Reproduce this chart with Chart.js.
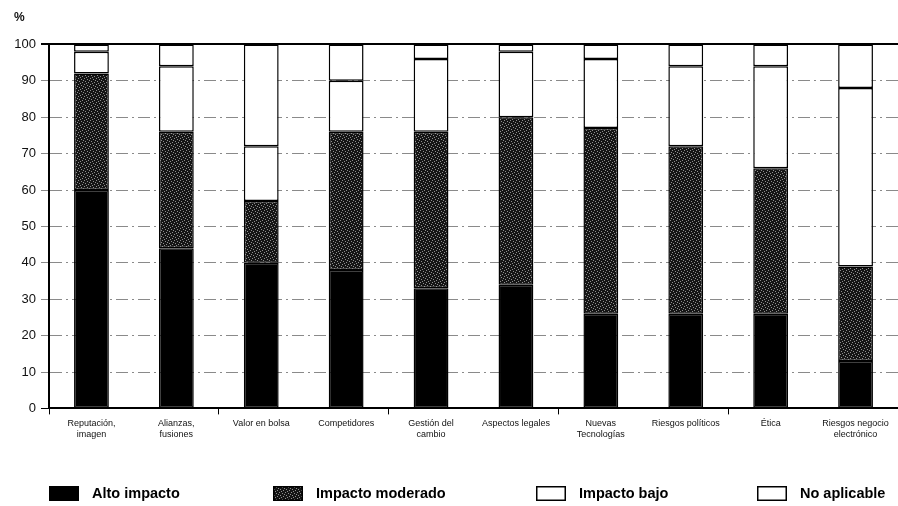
<!DOCTYPE html>
<html>
<head>
<meta charset="utf-8">
<script src="https://cdn.jsdelivr.net/npm/chart.js@4/dist/chart.umd.min.js"></script>
<style>
  html, body { margin: 0; padding: 0; background: #fff; }
  #wrap { position: relative; width: 898px; height: 506px; }
  #leyenda { position: absolute; left: 0; top: 485px; width: 898px; height: 18px;
             font: bold 14.5px "Liberation Sans", Arial, sans-serif; color: #000; }
  .item { position: absolute; top: 0; display: flex; align-items: center; white-space: nowrap; }
  .item canvas { width: 30px; height: 15px; margin-right: 13px; display: block; }
</style>
</head>
<body>
<div id="wrap">
  <canvas id="mainChart"></canvas>
  <div id="leyenda"></div>
</div>
<script>
    // categorias y valores (% de respuestas)
    const categorias = [
        ['Reputación,', 'imagen'],
        ['Alianzas,', 'fusiones'],
        'Valor en bolsa',
        'Competidores',
        ['Gestión del', 'cambio'],
        'Aspectos legales',
        ['Nuevas', 'Tecnologías'],
        'Riesgos políticos',
        'Ética',
        ['Riesgos negocio', 'electrónico']
    ];
    const altoImpacto     = [60, 44, 40, 38, 33, 34, 26, 26, 26, 13];
    const impactoModerado = [32, 32, 17, 38, 43, 46, 51, 46, 40, 26];
    const impactoBajo     = [6, 18, 15, 14, 20, 18, 19, 22, 28, 49];
    const noAplicable     = [2, 6, 28, 10, 4, 2, 4, 6, 6, 12];
    const yTicks = [0, 10, 20, 30, 40, 50, 60, 70, 80, 90, 100];

    const FONT = '"Liberation Sans", Arial, sans-serif';

    // trama punteada para "Impacto moderado"
    function makePattern(g) {
        const c = document.createElement('canvas');
        c.width = 6; c.height = 6;
        const p = c.getContext('2d');
        p.fillStyle = '#151515';
        p.fillRect(0, 0, 6, 6);
        p.fillStyle = '#8f8f8f';
        [[0, 0], [3, 1], [1, 3], [4, 4], [5, 2], [2, 5]].forEach(d => p.fillRect(d[0], d[1], 1, 1));
        return g.createPattern(c, 'repeat');
    }

    const ctx = document.getElementById('mainChart').getContext('2d');
    const trama = makePattern(ctx);
    const common = { borderColor: '#000', borderWidth: 1.5, borderSkipped: false, barPercentage: 0.41, categoryPercentage: 1 };

    const myChart = new Chart(ctx, {
        type: 'bar',
        data: {
            labels: categorias,
            datasets: [
                { label: 'Alto impacto', data: altoImpacto, backgroundColor: '#000', ...common },
                { label: 'Impacto moderado', data: impactoModerado, backgroundColor: trama, ...common },
                { label: 'Impacto bajo', data: impactoBajo, backgroundColor: '#fff', ...common },
                { label: 'No aplicable', data: noAplicable, backgroundColor: '#fff', ...common }
            ]
        },
        options: {
            responsive: true,
            maintainAspectRatio: false,
            animation: false,
            layout: { padding: { left: 14, right: 0, top: 6, bottom: 62 } },
            plugins: {
                tooltip: { enabled: false },
                legend: { display: false },
                title: {
                    display: true, text: '%', align: 'start',
                    color: '#111', font: { family: FONT, size: 12, weight: 'bold' },
                    padding: { top: 4, bottom: 20 }
                }
            },
            scales: {
                x: {
                    stacked: true,
                    grid: {
                        drawOnChartArea: false, tickLength: 6, lineWidth: 1,
                        color: c => (c.index % 2 === 0 ? '#000' : 'rgba(0,0,0,0)')
                    },
                    border: { color: '#000', width: 2 },
                    ticks: { color: '#111', font: { family: FONT, size: 9 }, maxRotation: 0, autoSkip: false, padding: 4 }
                },
                y: {
                    stacked: true, min: 0, max: 100,
                    afterBuildTicks: s => { s.ticks = yTicks.map(v => ({ value: v })); },
                    afterFit: s => { s.width = 35; },
                    grid: {
                        tickLength: 8, lineWidth: c => (c.tick.value === 100 ? 2 : 1),
                        color: c => (c.tick.value === 100 || c.tick.value === 0 ? '#000' : '#8a8a8a')
                    },
                    border: { color: '#000', width: 2, dash: c => (c.tick && c.tick.value === 100 ? [] : [12, 4, 2, 4]) },
                    ticks: { color: '#111', font: { family: FONT, size: 13 }, padding: 5, autoSkip: false }
                }
            }
        }
    });

    // leyenda inferior, repartida a lo ancho como en el original
    const posLeyenda = [49, 273, 536, 757];
    const leyenda = document.getElementById('leyenda');
    myChart.data.datasets.forEach((ds, i) => {
        const item = document.createElement('div');
        item.className = 'item';
        item.style.left = posLeyenda[i] + 'px';
        const sw = document.createElement('canvas');
        sw.width = 30; sw.height = 15;
        const g = sw.getContext('2d');
        g.fillStyle = ds.backgroundColor === trama ? makePattern(g) : ds.backgroundColor;
        g.fillRect(0, 0, 30, 15);
        g.lineWidth = 1.5;
        g.strokeStyle = '#000';
        g.strokeRect(0.75, 0.75, 28.5, 13.5);
        item.appendChild(sw);
        const txt = document.createElement('span');
        txt.textContent = ds.label;
        item.appendChild(txt);
        leyenda.appendChild(item);
    });
</script>
</body>
</html>
